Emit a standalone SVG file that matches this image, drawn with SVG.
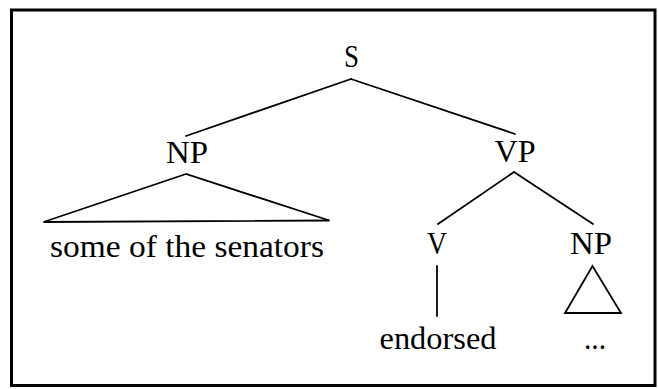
<svg xmlns="http://www.w3.org/2000/svg" width="659" height="389" viewBox="0 0 659 389">
<style>
text{font-family:"Liberation Serif","DejaVu Serif",serif;font-size:31px;fill:#000;text-anchor:middle}
.e{stroke:#000;stroke-width:1.8;fill:none;stroke-linecap:round}
.tri{stroke:#000;stroke-width:1.8;fill:none;stroke-linejoin:miter}
</style>
<rect x="0" y="0" width="659" height="389" fill="#fff"/>
<rect x="11.5" y="10" width="643.5" height="375.5" fill="none" stroke="#000" stroke-width="3"/>
<g id="S"><text x="351.5" y="67" textLength="15" lengthAdjust="spacingAndGlyphs">S</text></g>
<g id="NP1"><text x="187" y="163" textLength="42" lengthAdjust="spacingAndGlyphs">NP</text></g>
<g id="VP"><text x="515" y="162" textLength="41" lengthAdjust="spacingAndGlyphs">VP</text></g>
<g id="NP1-leaf">
<polygon class="tri" points="186,174 43.5,222 329.5,220.5"/>
<text x="187" y="257" textLength="274" lengthAdjust="spacingAndGlyphs">some of the senators</text>
</g>
<g id="V"><text x="437" y="254" textLength="20" lengthAdjust="spacingAndGlyphs">V</text></g>
<g id="NP2"><text x="591" y="254" textLength="42" lengthAdjust="spacingAndGlyphs">NP</text></g>
<g id="NP2-tri"><polygon class="tri" points="592.5,266 565,313 621,313"/></g>
<g id="endorsed"><text x="438" y="349" textLength="117" lengthAdjust="spacingAndGlyphs">endorsed</text></g>
<g id="dots"><text x="595" y="349" textLength="22" lengthAdjust="spacingAndGlyphs">...</text></g>
<g id="connectors">
<line class="e" x1="351" y1="79" x2="186" y2="136"/>
<line class="e" x1="351" y1="79" x2="515" y2="134"/>
<line class="e" x1="514" y1="172" x2="438" y2="224"/>
<line class="e" x1="514" y1="172" x2="593" y2="224"/>
<line class="e" x1="437" y1="266" x2="437" y2="316"/>
</g>
</svg>
